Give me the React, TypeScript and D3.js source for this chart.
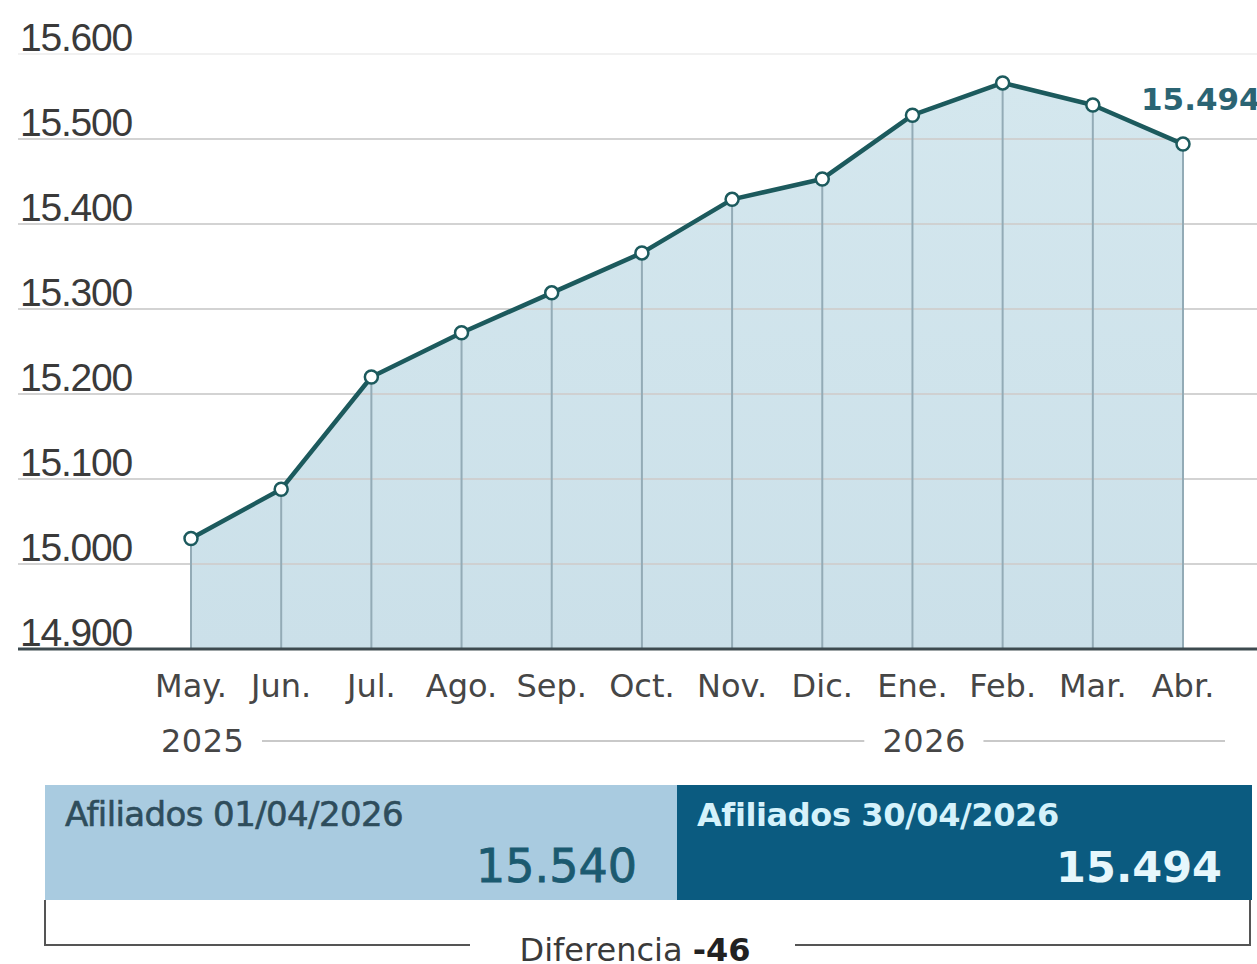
import React from "react";
import * as d3 from "d3";

const months = ["May.", "Jun.", "Jul.", "Ago.", "Sep.", "Oct.", "Nov.", "Dic.", "Ene.", "Feb.", "Mar.", "Abr."];
const values = [15030, 15088, 15220, 15272, 15319, 15366, 15429, 15453, 15528, 15566, 15540, 15494];
const yTicks = [14900, 15000, 15100, 15200, 15300, 15400, 15500, 15600];
const years = [
  { label: "2025", from: 0, to: 7 },
  { label: "2026", from: 8, to: 11 },
];
const boxLeft = { title: "Afiliados 01/04/2026", value: 15540 };
const boxRight = { title: "Afiliados 30/04/2026", value: 15494 };

const fmt = (v: number) => d3.format(",")(v).replace(/,/g, ".").replace("\u2212", "-");
const AX = "'Liberation Sans', Arial, sans-serif";
const WIDE = "'DejaVu Sans', sans-serif";

export default function App() {
  const W = 1257, H = 964;
  const x = d3.scalePoint<string>().domain(months).range([191, 1183]);
  const y = d3.scaleLinear().domain([14900, 15600]).range([649, 54]);
  const data = months.map((m, i) => ({ m, v: values[i] }));
  const line = d3.line<{ m: string; v: number }>().x(d => x(d.m)!).y(d => y(d.v));
  const area = d3.area<{ m: string; v: number }>().x(d => x(d.m)!).y0(y(14900)).y1(d => y(d.v));
  const last = data[data.length - 1];

  return (
    <svg width={W} height={H} style={{ position: "absolute", left: 0, top: 0, background: "#fff" }}>
      <defs>
        <linearGradient id="fillg" x1="0" y1="0" x2="0" y2="1">
          <stop offset="0" stopColor="#d4e7ee" />
          <stop offset="1" stopColor="#cbe0e9" />
        </linearGradient>
      </defs>
      <path d={area(data)!} fill="url(#fillg)" />
      {yTicks.slice(1).map(t => (
        <line key={t} x1={18} x2={W} y1={y(t)} y2={y(t)} stroke={t === 15600 ? "#f0f0f0" : "#cfcfcf"} strokeWidth={2} opacity={0.9} />
      ))}
      {data.map(d => (
        <line key={d.m} x1={x(d.m)} x2={x(d.m)} y1={y(d.v)} y2={y(14900)} stroke="#93abb6" strokeWidth={2} />
      ))}
      <line x1={18} x2={W} y1={y(14900)} y2={y(14900)} stroke="#3d4a4f" strokeWidth={3} />
      {yTicks.map(t => (
        <text key={t} x={20} y={y(t) - 3} fontFamily={AX} fontSize={39} fill="#3a3a3a" letterSpacing={-1.2}>{fmt(t)}</text>
      ))}
      <path d={line(data)!} fill="none" stroke="#1c5a5d" strokeWidth={4.5} strokeLinejoin="round" />
      {data.map(d => (
        <circle key={d.m} cx={x(d.m)} cy={y(d.v)} r={6.5} fill="#fff" stroke="#1c5a5d" strokeWidth={2.5} />
      ))}
      <text x={1141} y={y(last.v) - 34} fontFamily={WIDE} fontSize={31} fontWeight={700} fill="#2b6473">{fmt(last.v)}</text>
      {months.map(m => (
        <text key={m} x={x(m)} y={697} textAnchor="middle" fontFamily={WIDE} fontSize={32} fill="#464646">{m}</text>
      ))}
      {years.map(yr => {
        const x0 = x(months[yr.from])! - 30;
        const x1 = x(months[yr.to])! + 42;
        return (
          <g key={yr.label}>
            <text x={x0} y={752} fontFamily={WIDE} fontSize={32} fill="#464646" letterSpacing={0.5}>{yr.label}</text>
            <line x1={x0 + 101} x2={x1} y1={741} y2={741} stroke="#c9c9c9" strokeWidth={2} />
          </g>
        );
      })}
      <rect x={45} y={785} width={632} height={115} fill="#a9cbe0" />
      <rect x={677} y={785} width={575} height={115} fill="#0b5b80" />
      <text x={65} y={826} fontFamily={WIDE} fontSize={34} fill="#2e4d5c" stroke="#2e4d5c" strokeWidth={0.6} letterSpacing={-0.6}>{boxLeft.title}</text>
      <text x={637} y={882} textAnchor="end" fontFamily={WIDE} fontSize={46} fill="#1b5a70" stroke="#1b5a70" strokeWidth={0.8}>{fmt(boxLeft.value)}</text>
      <text x={697} y={826} fontFamily={WIDE} fontSize={32} fontWeight={700} fill="#d5f2fb" letterSpacing={-0.4}>{boxRight.title}</text>
      <text x={1222} y={882} textAnchor="end" fontFamily={WIDE} fontSize={43} fontWeight={700} fill="#e6f7fc">{fmt(boxRight.value)}</text>
      <polyline points="45,900 45,945 470,945" fill="none" stroke="#555" strokeWidth={2} />
      <polyline points="795,945 1250,945 1250,900" fill="none" stroke="#555" strokeWidth={2} />
      <text x={635} y={961} textAnchor="middle" fontFamily={WIDE} fontSize={32} fill="#3a3a3a">
        Diferencia <tspan fontWeight={700} fill="#222">{fmt(boxRight.value - boxLeft.value)}</tspan>
      </text>
    </svg>
  );
}
